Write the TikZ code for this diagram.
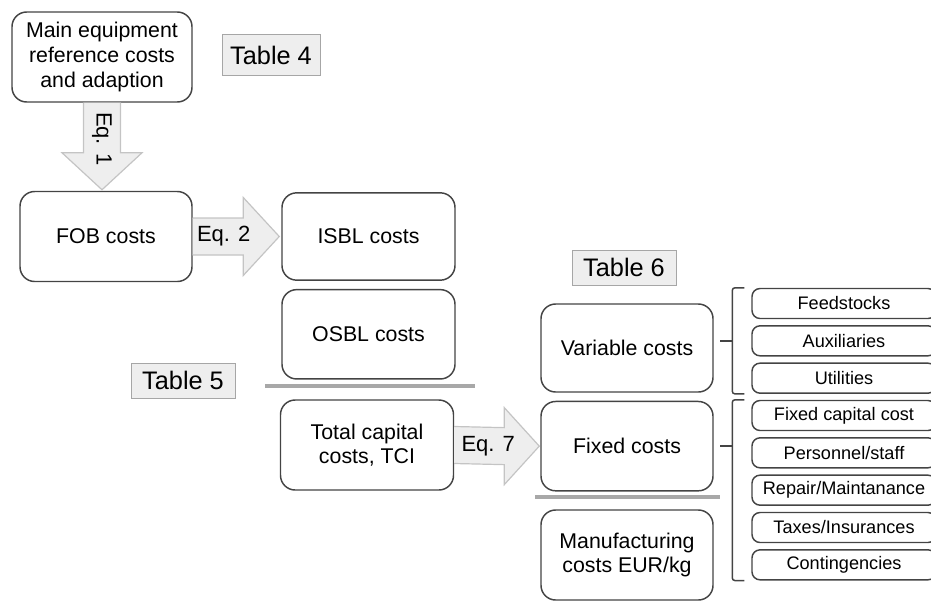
\documentclass[tikz,border=0pt]{standalone}
\usepackage{fontspec}
\setmainfont{Liberation Sans}
\usepackage{xcolor}
\usetikzlibrary{positioning,calc}
\definecolor{boxline}{HTML}{444444}
\definecolor{arrowfill}{HTML}{EEEEEE}
\definecolor{arrowline}{HTML}{C4C4C4}
\definecolor{sepline}{HTML}{A8A8A8}
\tikzset{%
  % Specifications for style of nodes:
        base/.style = {rectangle, rounded corners=11pt, draw=boxline,
                       line width=1.1pt, minimum width=129pt,
                       minimum height=67pt, align=center,
                       font=\fontsize{16}{18.5}\selectfont},
     itembox/.style = {base, rounded corners=6pt, minimum width=138pt,
                       minimum height=22.5pt, inner sep=0pt,
                       font=\fontsize{13.6}{15}\selectfont},
  tablelabel/.style = {rectangle, draw=gray!70, fill=arrowfill,
                       line width=0.7pt, inner sep=0pt,
                       font=\fontsize{19}{22}\selectfont},
  blockarrow/.style = {fill=arrowfill, draw=arrowline, line width=0.9pt},
     eqlabel/.style = {inner sep=0pt, font=\fontsize{16.5}{18}\selectfont},
   separator/.style = {draw=sepline, line width=3pt},
     bracket/.style = {draw=boxline, line width=1.1pt, rounded corners=2pt},
}
\begin{document}
\begin{tikzpicture}[x=0.75pt, y=-0.75pt]
  \useasboundingbox (0,0) rectangle (931,600);
  % Specification of nodes (position, etc.)
  \node (main) [base, minimum width=135pt, minimum height=67.5pt] at (102,57)
        {Main equipment\\reference costs\\and adaption};
  \node (tab4) [tablelabel, minimum width=73.5pt, minimum height=30.75pt]
        at (271,55) {Table 4};
  \node (fob)  [base, minimum height=67.5pt] at (106,236.5) {FOB costs};
  \node (isbl) [base, minimum width=129.75pt, minimum height=65.5pt]
        at (368.5,236.5) {ISBL costs};
  \node (osbl) [base, minimum width=129.75pt, below=6pt of isbl] {OSBL costs};
  \node (tab5) [tablelabel, minimum width=78pt, minimum height=26.25pt]
        at (183,380.5) {Table 5};
  \node (tci)  [base, minimum width=129.75pt, minimum height=67.5pt]
        at (367,445) {Total capital\\costs, TCI};
  \node (tab6) [tablelabel, minimum width=78pt, minimum height=26.25pt]
        at (624,267.5) {Table 6};
  \node (var)  [base, minimum height=66pt] at (627,348) {Variable costs};
  \node (fix)  [base, below=6pt of var] {Fixed costs};
  \node (manu) [base, minimum height=67.5pt] at (627,555)
        {Manufacturing\\costs EUR/kg};
  % cost items on the right
  \node (feed) [itembox] at (844,303.5) {Feedstocks};
  \node (aux)  [itembox, below=4.4pt of feed] {Auxiliaries};
  \node (util) [itembox, below=4.4pt of aux]  {Utilities};
  \node (fcap) [itembox, below=4.4pt of util] {Fixed capital cost};
  \node (pers) [itembox, below=4.4pt of fcap] {Personnel/staff};
  \node (rep)  [itembox, below=4.4pt of pers] {Repair/Maintanance};
  \node (tax)  [itembox, below=4.4pt of rep]  {Taxes/Insurances};
  \node (cont) [itembox, below=4.4pt of tax]  {Contingencies};
  % block arrows between the boxes, with their labels
  \path[blockarrow] ($(main.south)+(-18.5,0)$)
        -- ($(main.south |- fob.north)+(-18.5,-38)$) -- ++(-21.5,0)
        -- ($(main.south |- fob.north)+(0,-1)$)
        -- ($(main.south |- fob.north)+(40,-38)$) -- ++(-21.5,0)
        -- ($(main.south)+(18.5,0)$);
  \node (eq1) [eqlabel, rotate=-90] at ($(main.south)+(0,36)$) {Eq. 1};
  \path[blockarrow] ($(fob.east)+(0,-18.5)$)
        -- ($(isbl.west)+(-38,-18.5)$) -- ($(isbl.west)+(-38,-39)$)
        -- ($(isbl.west)+(-2,0)$)
        -- ($(isbl.west)+(-38,39)$) -- ($(isbl.west)+(-38,18.5)$)
        -- ($(fob.east)+(0,18.5)$);
  \node (eq2) [eqlabel] at ($(fob.east)+(31,0)$) {Eq. 2};
  \path[blockarrow] ($(tci.east)+(0,-18.5)$)
        -- ($(fix.west)+(-36,-18.5)$) -- ($(fix.west)+(-36,-38.5)$)
        -- ($(fix.west)+(-1,0)$)
        -- ($(fix.west)+(-36,38.5)$) -- ($(fix.west)+(-36,18.5)$)
        -- ($(tci.east)+(0,18.5)$);
  \node (eq7) [eqlabel] at ($(tci.east)+(34,1)$) {Eq. 7};
  % separating lines
  \draw[separator] (265,386) -- (475,386);
  \draw[separator] (535,497) -- (720,497);
  % brackets round the cost items
  \draw[bracket] ($(feed.north west)+(-7,0)$) -- ($(feed.north west)+(-19,0)$)
        -- ($(util.south west)+(-19,0)$) -- ($(util.south west)+(-7,0)$);
  \draw[bracket] ($(aux.west)+(-19,0)$) -- ++(-12,0);
  \draw[bracket] ($(fcap.north west)+(-7,0)$) -- ($(fcap.north west)+(-19,0)$)
        -- ($(cont.south west)+(-19,0)$) -- ($(cont.south west)+(-7,0)$);
  \draw[bracket] ($(fcap.west |- fix.east)+(-19,0)$) -- ++(-12,0);
\end{tikzpicture}
\end{document}
